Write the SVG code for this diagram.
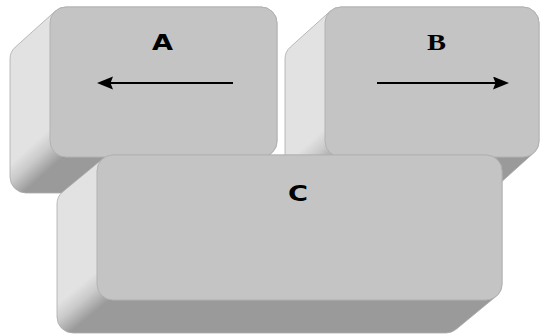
<svg xmlns="http://www.w3.org/2000/svg" width="541" height="335" viewBox="0 0 541 335">
  <style>
    .face { fill: #c4c4c4; stroke: #b2b2b2; stroke-width: 1; }
    .side { stroke: #ababab; stroke-width: 0.8; }
    .lbl { font-family: "DejaVu Sans", "Liberation Sans", sans-serif; font-weight: bold; font-size: 22px; fill: #000; text-anchor: middle; }
    .lblb { font-family: "Liberation Serif", "DejaVu Serif", serif; font-weight: bold; font-size: 24px; fill: #000; text-anchor: middle; }
    .arr { stroke: #000; stroke-width: 2; fill: none; marker-end: url(#head); }
  </style>
  <defs>
    <marker id="head" markerUnits="userSpaceOnUse" markerWidth="18" markerHeight="14" refX="13" refY="6.5" orient="auto">
      <path d="M0,0 L16,6.5 L0,13 L2.5,6.5 Z" fill="#000"/>
    </marker>
    <linearGradient id="gA" gradientUnits="userSpaceOnUse" x1="52.6" y1="126.1" x2="72.7" y2="148.4">
      <stop offset="0" stop-color="#e2e2e2"/>
      <stop offset="0.45" stop-color="#cacaca"/>
      <stop offset="1" stop-color="#9a9a9a"/>
    </linearGradient>
    <linearGradient id="gB" gradientUnits="userSpaceOnUse" x1="327.6" y1="126.1" x2="347.7" y2="148.4">
      <stop offset="0" stop-color="#e2e2e2"/>
      <stop offset="0.45" stop-color="#cacaca"/>
      <stop offset="1" stop-color="#9a9a9a"/>
    </linearGradient>
    <linearGradient id="gC" gradientUnits="userSpaceOnUse" x1="100.3" y1="268.6" x2="119.4" y2="291.7">
      <stop offset="0" stop-color="#e2e2e2"/>
      <stop offset="0.45" stop-color="#cacaca"/>
      <stop offset="1" stop-color="#9a9a9a"/>
    </linearGradient>
  </defs>

  <g id="node-A">
    <path class="side" fill="url(#gA)" d="M55.3,11.1 A16,16 0 0 1 66,7 L261,7 A16,16 0 0 1 277,23 L277,141 A16,16 0 0 1 271.7,152.9 L231.7,188.9 A16,16 0 0 1 221,193 L26,193 A16,16 0 0 1 10,177 L10,59 A16,16 0 0 1 15.3,47.1 Z"/>
    <rect class="face" x="50" y="7" width="227" height="150" rx="16" ry="16"/>
    <text class="lbl" x="162.5" y="50" textLength="21" lengthAdjust="spacingAndGlyphs">A</text>
  </g>

  <g id="node-B">
    <path class="side" fill="url(#gB)" d="M330.3,11.1 A16,16 0 0 1 341,7 L523,7 A16,16 0 0 1 539,23 L539,141 A16,16 0 0 1 533.7,152.9 L493.7,188.9 A16,16 0 0 1 483,193 L301,193 A16,16 0 0 1 285,177 L285,59 A16,16 0 0 1 290.3,47.1 Z"/>
    <rect class="face" x="325" y="7" width="214" height="150" rx="16" ry="16"/>
    <text class="lblb" x="436.5" y="50" textLength="19" lengthAdjust="spacingAndGlyphs">B</text>
  </g>

  <g id="connectors">
    <line class="arr" x1="233" y1="83" x2="100" y2="83"/>
    <line class="arr" x1="377" y1="83" x2="506" y2="83"/>
  </g>

  <g id="node-C">
    <path class="side" fill="url(#gC)" d="M102.8,158.7 A16,16 0 0 1 113,155 L486,155 A16,16 0 0 1 502,171 L502,284 A16,16 0 0 1 496.2,296.3 L456.2,329.3 A16,16 0 0 1 446,333 L73,333 A16,16 0 0 1 57,317 L57,204 A16,16 0 0 1 62.8,191.7 Z"/>
    <rect class="face" x="97" y="155" width="405" height="145" rx="16" ry="16"/>
    <text class="lbl" x="298" y="201" textLength="20" lengthAdjust="spacingAndGlyphs">C</text>
  </g>
</svg>
